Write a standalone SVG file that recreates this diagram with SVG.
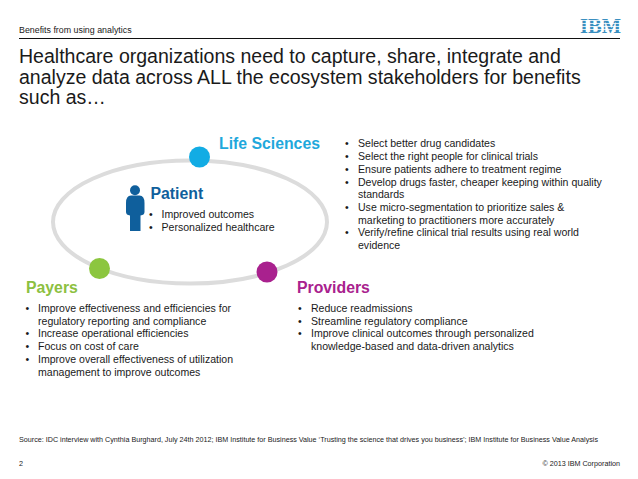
<svg xmlns="http://www.w3.org/2000/svg" width="638" height="479" viewBox="0 0 638 479">
<style>
text{font-family:"Liberation Sans",Arial,sans-serif;fill:#1a1a1a}
.t{font-size:19.55px}
.b{font-size:10.55px}
.s{font-size:7.2px}
.h{font-size:15.8px;font-weight:bold}
</style>
<rect width="638" height="479" fill="#fff"/>
<g id="header">
<text x="19" y="33" style="font-size:8.85px">Benefits from using analytics</text>
<line x1="19" y1="38.5" x2="620" y2="38.5" stroke="#111" stroke-width="1"/>
<g id="logo">
<text x="580" y="33" style="font-family:'Liberation Serif',serif;font-weight:bold;font-size:21px;fill:#3a8fc0" textLength="41" lengthAdjust="spacingAndGlyphs">IBM</text>
<g stroke="#fff" stroke-width="0.8">
<line x1="577" y1="20.5" x2="623" y2="20.5"/><line x1="577" y1="23.5" x2="623" y2="23.5"/><line x1="577" y1="26.5" x2="623" y2="26.5"/><line x1="577" y1="29.5" x2="623" y2="29.5"/>
</g>
</g>
</g>
<g id="title">
<text x="19" y="63" class="t">Healthcare organizations need to capture, share, integrate and</text>
<text x="19" y="83.500" class="t">analyze data across ALL the ecosystem stakeholders for benefits</text>
<text x="19" y="104" class="t">such as…</text>
</g>
<g id="connectors">
<ellipse cx="190" cy="222" rx="137" ry="61.5" fill="none" stroke="#dcdcdc" stroke-width="4"/>
</g>
<g id="patient">
<g fill="#0f5f9c">
<circle cx="135" cy="190.300" r="5"/>
<path d="M126 203q0-7.500 5-7.500h8.500q5 0 5 7.500v9q0 3-4 3.500v15.500h-10.500v-15.500q-4-.5-4-3.500z"/>
</g>
<text x="150.500" y="199" class="h" style="fill:#0f5f9c">Patient</text>
<text x="149" y="218" class="b">•</text><text x="161.500" y="218" class="b">Improved outcomes</text>
<text x="149" y="231" class="b">•</text><text x="161.500" y="231" class="b">Personalized healthcare</text>
</g>
<g id="life-sciences">
<circle cx="199.500" cy="157" r="10.500" fill="#12ace4"/>
<text x="219" y="149" class="h" style="fill:#1fa8dc">Life Sciences</text>
<g class="b">
<text x="345" y="147">•</text><text x="358" y="147">Select better drug candidates</text>
<text x="345" y="160">•</text><text x="358" y="160">Select the right people for clinical trials</text>
<text x="345" y="172.500">•</text><text x="358" y="172.500">Ensure patients adhere to treatment regime</text>
<text x="345" y="185.500">•</text><text x="358" y="185.500">Develop drugs faster, cheaper keeping within quality</text>
<text x="358" y="198">standards</text>
<text x="345" y="210.500">•</text><text x="358" y="210.500">Use micro-segmentation to prioritize sales &amp;</text>
<text x="358" y="223.500">marketing to practitioners more accurately</text>
<text x="345" y="236">•</text><text x="358" y="236">Verify/refine clinical trial results using real world</text>
<text x="358" y="249">evidence</text>
</g>
</g>
<g id="payers">
<circle cx="99.500" cy="268.500" r="10.500" fill="#8cc63f"/>
<text x="26" y="293" class="h" style="fill:#8cc040">Payers</text>
<g class="b">
<text x="25.500" y="312">•</text><text x="38" y="312">Improve effectiveness and efficiencies for</text>
<text x="38" y="324.500">regulatory reporting and compliance</text>
<text x="25.500" y="337">•</text><text x="38" y="337">Increase operational efficiencies</text>
<text x="25.500" y="350">•</text><text x="38" y="350">Focus on cost of care</text>
<text x="25.500" y="363">•</text><text x="38" y="363">Improve overall effectiveness of utilization</text>
<text x="38" y="376">management to improve outcomes</text>
</g>
</g>
<g id="providers">
<circle cx="267" cy="272" r="10.500" fill="#a9218e"/>
<text x="297" y="293" class="h" style="fill:#a9218e">Providers</text>
<g class="b">
<text x="298" y="312">•</text><text x="311" y="312">Reduce readmissions</text>
<text x="298" y="324.500">•</text><text x="311" y="324.500">Streamline regulatory compliance</text>
<text x="298" y="337">•</text><text x="311" y="337">Improve clinical outcomes through personalized</text>
<text x="311" y="350">knowledge-based and data-driven analytics</text>
</g>
</g>
<g id="footer">
<text x="19" y="442" class="s" textLength="579" lengthAdjust="spacingAndGlyphs">Source: IDC interview with Cynthia Burghard, July 24th 2012; IBM Institute for Business Value ‘Trusting the science that drives you business’; IBM Institute for Business Value Analysis</text>
<text x="19" y="466" class="s">2</text>
<text x="620" y="466" class="s" text-anchor="end">© 2013 IBM Corporation</text>
</g>
</svg>
